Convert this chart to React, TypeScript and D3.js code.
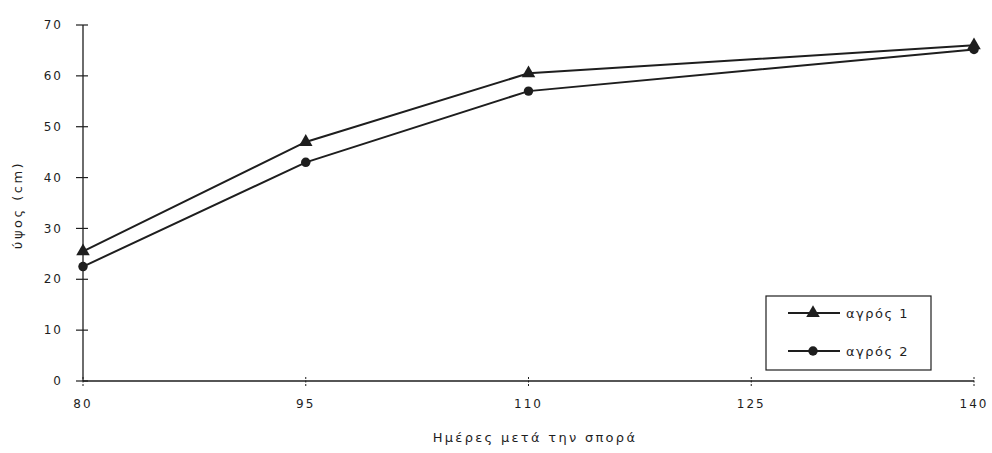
import React from "react";
import * as d3 from "d3";

// Days after sowing and plant height (cm) for two fields
const days = [80, 95, 110, 140];
const field1 = [25.5, 47, 60.5, 66];
const field2 = [22.5, 43, 57, 65.2];
const xTicks = [80, 95, 110, 125, 140];
const yTicks = [0, 10, 20, 30, 40, 50, 60, 70];
const seriesNames = ["αγρός 1", "αγρός 2"];

const W = 992;
const H = 453;
const ink = "#1e1e1e";
const font = "'DejaVu Sans', sans-serif";

export default function App() {
  const x = d3.scaleLinear().domain([80, 140]).range([83, 974]);
  const y = d3.scaleLinear().domain([0, 70]).range([381, 25]);
  const line = d3
    .line<number>()
    .x((_, i) => x(days[i]))
    .y((d) => y(d));
  const tri = d3.symbol().type(d3.symbolTriangle).size(80)();
  const circ = d3.symbol().type(d3.symbolCircle).size(70)();

  return (
    <svg
      width={W}
      height={H}
      style={{ position: "absolute", left: 0, top: 0, background: "#fff" }}
      fontFamily={font}
    >
      {/* axes */}
      <line x1={x(80)} x2={x(80)} y1={y(70)} y2={y(0)} stroke={ink} strokeWidth={1.3} />
      <line x1={x(80)} x2={x(140)} y1={y(0)} y2={y(0)} stroke={ink} strokeWidth={1.3} />
      {yTicks.map((t) => (
        <g key={"y" + t}>
          <line x1={x(80) - 7} x2={x(80) + 5} y1={y(t)} y2={y(t)} stroke={ink} strokeWidth={1.2} />
          <text
            x={63}
            y={y(t)}
            dy="0.35em"
            textAnchor="end"
            fontSize={12}
            letterSpacing={2}
            fill={ink}
          >
            {t}
          </text>
        </g>
      ))}
      {xTicks.map((t) => (
        <g key={"x" + t}>
          <line
            x1={x(t)}
            x2={x(t)}
            y1={y(0) - 4}
            y2={y(0) + 5}
            stroke={ink}
            strokeWidth={1}
            strokeDasharray="2,1.5"
          />
          <text
            x={x(t)}
            y={408}
            textAnchor="middle"
            fontSize={12}
            letterSpacing={2}
            fill={ink}
          >
            {t}
          </text>
        </g>
      ))}
      {/* axis titles */}
      <text
        transform={`translate(22,${205}) rotate(-90)`}
        textAnchor="middle"
        fontSize={13}
        letterSpacing={2.5}
        fill={ink}
      >
        ύψος (cm)
      </text>
      <text x={535} y={442} textAnchor="middle" fontSize={13} letterSpacing={2.3} fill={ink}>
        Ημέρες μετά την σπορά
      </text>

      {/* series */}
      <path d={line(field1) || ""} fill="none" stroke={ink} strokeWidth={2} />
      <path d={line(field2) || ""} fill="none" stroke={ink} strokeWidth={2} />
      {field1.map((v, i) => (
        <path key={"t" + i} d={tri || ""} transform={`translate(${x(days[i])},${y(v)})`} fill={ink} />
      ))}
      {field2.map((v, i) => (
        <path key={"c" + i} d={circ || ""} transform={`translate(${x(days[i])},${y(v)})`} fill={ink} />
      ))}

      {/* legend */}
      <rect x={766} y={296} width={165} height={74} fill="#fff" stroke={ink} strokeWidth={1.2} />
      {seriesNames.map((name, i) => {
        const ly = 313 + i * 38;
        return (
          <g key={name}>
            <line x1={788} x2={840} y1={ly} y2={ly} stroke={ink} strokeWidth={2} />
            <path d={(i === 0 ? tri : circ) || ""} transform={`translate(813,${ly})`} fill={ink} />
            <text x={846} y={ly} dy="0.35em" fontSize={13} letterSpacing={1.5} fill={ink}>
              {name}
            </text>
          </g>
        );
      })}
    </svg>
  );
}
